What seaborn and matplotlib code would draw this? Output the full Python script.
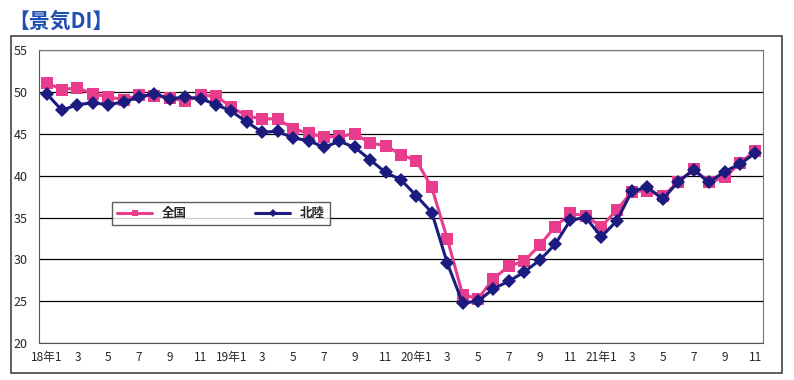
import numpy as np
import pandas as pd
import matplotlib
matplotlib.use("Agg")
import matplotlib.pyplot as plt
import seaborn as sns
from matplotlib.patches import Rectangle

# months Jan 2018 - Nov 2021
months = pd.date_range("2018-01-01", "2021-11-01", freq="MS")

zenkoku = [51.1, 50.3, 50.5, 49.8, 49.4, 49.1, 49.6, 49.5, 49.3, 48.9, 49.6, 49.5,
           48.2, 47.1, 46.8, 46.8, 45.6, 45.1, 44.6, 44.7, 45.0, 43.9, 43.6, 42.5,
           41.8, 38.6, 32.5, 25.8, 25.3, 27.7, 29.2, 29.8, 31.7, 33.9, 35.5, 35.2,
           33.9, 35.9, 38.1, 38.2, 37.6, 39.2, 40.8, 39.2, 39.8, 41.5, 43.0]
hokuriku = [49.8, 47.8, 48.5, 48.7, 48.5, 48.8, 49.4, 49.8, 49.2, 49.4, 49.2, 48.5,
            47.7, 46.4, 45.2, 45.3, 44.5, 44.2, 43.4, 44.1, 43.4, 41.9, 40.4, 39.5,
            37.6, 35.6, 29.6, 24.8, 25.0, 26.5, 27.4, 28.5, 29.9, 31.8, 34.7, 35.0,
            32.7, 34.6, 38.2, 38.6, 37.2, 39.3, 40.7, 39.2, 40.5, 41.4, 42.7]

tick_labels = []
for d in months:
    if d.month % 2 == 0:
        continue
    if d.month == 1:
        tick_labels.append(f"{d.year % 100}年1")
    else:
        tick_labels.append(str(d.month))

df = pd.DataFrame({"pos": np.arange(len(months)), "全国": zenkoku, "北陸": hokuriku})

sns.set_style("white")
plt.rcParams['font.family'] = ['Noto Sans CJK JP', 'DejaVu Sans']

fig = plt.figure(figsize=(7.94, 3.80), dpi=100)
ax = fig.add_axes([0.049, 0.097, 0.912, 0.771])

pink = "#e83c8c"
navy = "#1c1c80"
sns.lineplot(data=df, x="pos", y="全国", ax=ax, color=pink, lw=2.2, marker="s",
             markersize=8, markeredgewidth=0, label="全国")
sns.lineplot(data=df, x="pos", y="北陸", ax=ax, color=navy, lw=2.2, marker="D",
             markersize=7, markeredgewidth=0, label="北陸")

ax.set_xlim(-0.5, len(months) - 0.5)
ax.set_ylim(20, 55)
ax.set_yticks(range(20, 56, 5))
ax.yaxis.grid(True, color="black", lw=0.9)
ax.set_axisbelow(True)
ax.set_xticks(df["pos"][::2])
ax.set_xticklabels(tick_labels)
ax.set_xticks(np.arange(-0.5, len(months), 1), minor=True)
ax.tick_params(axis="x", which="major", length=0, labelsize=8.5, pad=6)
ax.tick_params(axis="x", which="minor", length=3, direction="in", color="#555555")
ax.tick_params(axis="y", length=0, labelsize=9, pad=8)
ax.set_xlabel("")
ax.set_ylabel("")
for s in ["top", "right"]:
    ax.spines[s].set_color("#777777")
    ax.spines[s].set_linewidth(0.8)
ax.spines["left"].set_color("#555555")
ax.spines["bottom"].set_color("#555555")

leg = ax.legend(loc="lower left", bbox_to_anchor=(0.101, 0.403, 0.301, 0.133),
                mode="expand", ncol=2, frameon=True, fancybox=False,
                prop={"weight": "bold", "size": 9}, handlelength=2.8,
                markerscale=0.6, borderaxespad=0)
leg.get_frame().set_edgecolor("#333333")
leg.get_frame().set_linewidth(1.0)

# outer chart frame
fig.patches.append(Rectangle((0.014, 0.018), 0.971, 0.887, transform=fig.transFigure,
                             fill=False, edgecolor="#444444", lw=1.2))

fig.text(0.010, 0.945, "【景気DI】", color="#1f4fb0", fontsize=15, fontweight="bold",
         va="center", ha="left")

fig.savefig("out.png", dpi=100)
